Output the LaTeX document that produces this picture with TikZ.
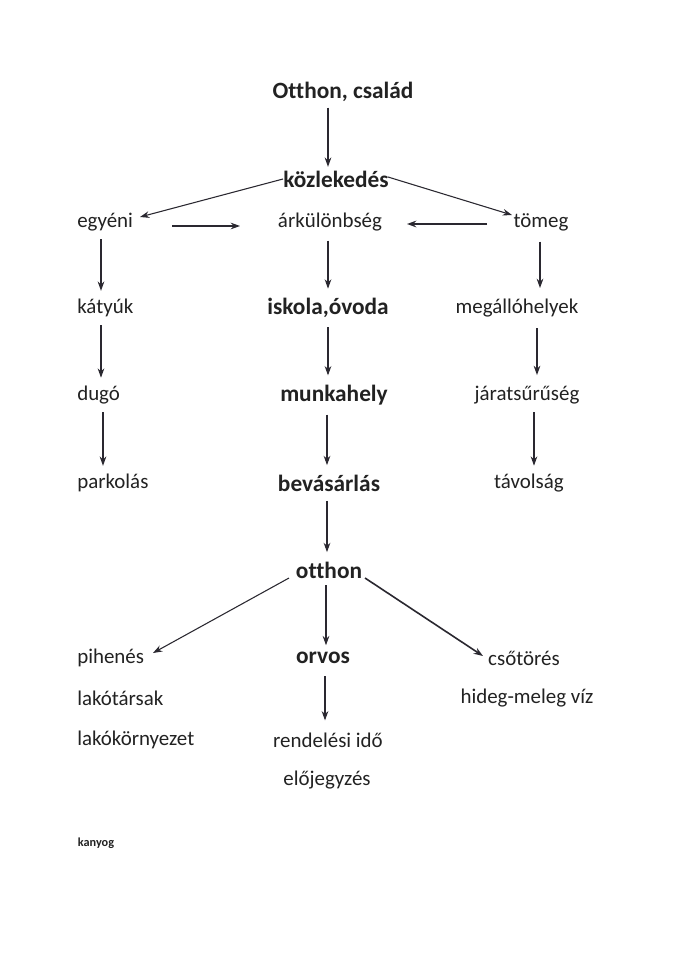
\documentclass[tikz,border=0pt]{standalone}
\usepackage{fontspec}
\setmainfont{Carlito}[Ligatures=NoCommon]
\usetikzlibrary{arrows.meta,calc}
\definecolor{ink}{HTML}{2A2830}
\definecolor{txt}{HTML}{222222}
\begin{document}
\begin{tikzpicture}[x=0.75pt,y=-0.75pt,
  lbl/.style={font=\fontsize{15.7}{18}\selectfont, text=txt, inner sep=2pt},
  blbl/.style={lbl, font=\fontsize{17.5}{20}\selectfont\bfseries},
  lft/.style={lbl, anchor=west, inner sep=0pt},
  arr/.style={draw=ink, line width=0.8pt, -{Stealth[length=7pt,width=5pt]}},
  sh/.style={shorten <=#1, shorten >=#1}]
\useasboundingbox[fill=white] (0,0) rectangle (677,960);
% nodes
\node[blbl] (oc) at (343,92) {Otthon, család};
\node[blbl] (koz) at (336,179) {közlekedés};
\node[lft] (egy) at (77,222) {egyéni};
\node[lbl] (ark) at (330,222) {árkülönbség};
\node[lbl] (tom) at (541,222) {tömeg};
\node[lft] (kat) at (77,308) {kátyúk};
\node[blbl] (isk) at (328,308) {iskola,óvoda};
\node[lbl] (meg) at (517,308) {megállóhelyek};
\node[lft] (dug) at (77,395) {dugó};
\node[blbl] (mun) at (334,395) {munkahely};
\node[lbl] (jar) at (527,395) {járatsűrűség};
\node[lft] (par) at (77,483) {parkolás};
\node[blbl] (bev) at (329,483) {bevásárlás};
\node[lbl] (tav) at (529,483) {távolság};
\node[blbl] (ott) at (329,570) {otthon};
\node[lft] (pih) at (77,658) {pihenés};
\node[blbl] (orv) at (323,658) {orvos};
\node[lbl] (cso) at (524,658) {csőtörés};
\node[lft] (lak) at (77,698) {lakótársak};
\node[lbl] (hid) at (527,698) {hideg-meleg víz};
\node[lft] (lkk) at (77,740) {lakókörnyezet};
\node[lbl] (ren) at (328,740) {rendelési idő};
\node[lbl] (elo) at (327,780) {előjegyzés};
\node[font=\fontsize{9.2}{11}\selectfont\bfseries, text=txt] (kan) at (96,843) {kanyog};
% connector anchor points
\coordinate (kozL) at (283,179);
\coordinate (kozR) at (388,177);
\coordinate (egyR) at (140,217);
\coordinate (tomL) at (512,215);
\coordinate (h1a) at (172,226);
\coordinate (h1b) at (240,226);
\coordinate (h2a) at (487,224);
\coordinate (h2b) at (407,224);
\coordinate (ottL) at (289,578);
\coordinate (ottR) at (365,578);
\coordinate (pihR) at (153,653);
\coordinate (csoL) at (483,656);
% connectors
\draw[arr] ($(oc.south -| 328,0)+(0,3)$) -- ($(koz.north -| 328,0)+(0,-1)$);
\draw[arr] (kozL) -- (egyR);
\draw[arr] (kozR) -- (tomL);
\draw[arr] (h1a) -- (h1b);
\draw[arr, line width=1.6pt] (h2a) -- (h2b);
\draw[arr,sh=6pt] (egy.south -| 101,0) -- (kat.north -| 101,0);
\draw[arr,sh=6pt] (kat.south -| 101,0) -- (dug.north -| 101,0);
\draw[arr,sh=6pt] (dug.south -| 103,0) -- (par.north -| 103,0);
\draw[arr,sh=5pt] (ark.south -| 328,0) -- (isk.north -| 328,0);
\draw[arr,sh=5pt] (isk.south -| 328,0) -- (mun.north -| 328,0);
\draw[arr,sh=5pt] (mun.south -| 327,0) -- (bev.north -| 327,0);
\draw[arr,sh=5pt] (bev.south -| 327,0) -- (ott.north -| 327,0);
\draw[arr,sh=6pt] (tom.south -| 540,0) -- (meg.north -| 540,0);
\draw[arr,sh=6pt] (meg.south -| 537,0) -- (jar.north -| 537,0);
\draw[arr,sh=4pt] (jar.south -| 534,0) -- (tav.north -| 534,0);
\draw[arr,sh=3pt] (ott.south -| 326,0) -- (orv.north -| 326,0);
\draw[arr] (ottL) -- (pihR);
\draw[arr, line width=1.2pt] (ottR) -- (csoL);
\draw[arr,sh=7pt] (orv.south -| 325,0) -- (ren.north -| 325,0);
\end{tikzpicture}
\end{document}
